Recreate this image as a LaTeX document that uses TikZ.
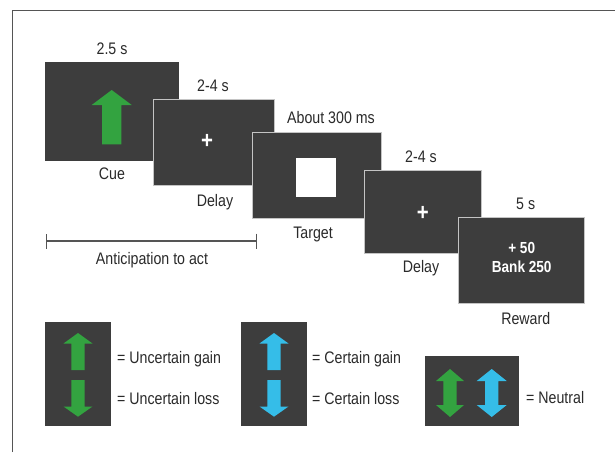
\documentclass[tikz,border=0pt]{standalone}
\usepackage{fontspec}
\setmainfont{Liberation Sans}[FakeStretch=0.85]
\usetikzlibrary{arrows.meta}
\definecolor{scr}{HTML}{3D3D3D}
\definecolor{grn}{HTML}{33A340}
\definecolor{cyn}{HTML}{35BDE8}
\definecolor{txt}{HTML}{2A2A2A}
\definecolor{frm}{HTML}{555555}
\definecolor{edge}{HTML}{C4C4C4}
\newcommand{\txtfont}{\fontsize{16.7}{19}\selectfont}
\newcommand{\bfnt}{\fontsize{16}{19}\selectfont\bfseries}
\newcommand{\plusfnt}{\fontsize{24}{26}\selectfont\bfseries}
% up arrow: cx, tip, headbase, half head width, half shaft width, bottom, colour
\newcommand{\uparr}[7]{\fill[#7] (#1,#2) -- (#1+#4,#3) -- (#1+#5,#3) -- (#1+#5,#6) -- (#1-#5,#6) -- (#1-#5,#3) -- (#1-#4,#3) -- cycle;}
\newcommand{\dblarr}[6]{\fill[#6] (#1,#2) -- (#1+#4,#2+12) -- (#1+#5,#2+12) -- (#1+#5,#3-12) -- (#1+#4,#3-12) -- (#1,#3) -- (#1-#4,#3-12) -- (#1-#5,#3-12) -- (#1-#5,#2+12) -- (#1-#4,#2+12) -- cycle;}
\begin{document}
\begin{tikzpicture}[x=1pt,y=-1pt,
  screen/.style={fill=scr, draw=#1, line width=0.9pt, inner sep=0pt},
  screen/.default={scr},
  lbl/.style={text=txt, font=\txtfont, inner sep=0pt},
  lgd/.style={text=txt, font=\txtfont, inner sep=0pt, anchor=west},
  wtxt/.style={text=white, font=\bfnt, inner sep=0pt, align=center},
  pls/.style={text=white, font=\plusfnt, inner sep=0pt},
  lbox/.style={fill=scr, inner sep=0pt}]
\useasboundingbox (0,0) rectangle (615,452);
\fill[white] (0,0) rectangle (615,452);
% frame
\draw[frm, line width=1.5pt] (12.5,452) -- (12.5,10.5) -- (615,10.5);

% screens
\node[screen, minimum width=133, minimum height=98] (s1) at (111.5,111) {};
\node[screen=edge, minimum width=121, minimum height=86] (s2) at (213.5,142) {};
\node[screen=edge, minimum width=129, minimum height=86] (s3) at (316.5,175) {};
\node[screen=edge, minimum width=117, minimum height=83] (s4) at (422.5,211.5) {};
\node[screen=edge, minimum width=126, minimum height=86] (s5) at (521,260) {};

% screen contents
\uparr{111.7}{90}{105}{20}{9.7}{144.3}{grn}
\node[pls] (p1) at (207,141) {+};
\fill[white] (296,158) rectangle (336,197);
\node[pls] (p2) at (422.7,213) {+};
\node[wtxt] (r1) at (521.7,247.5) {+ 50};
\node[wtxt] (r2) at (521.7,266.5) {Bank 250};

% labels
\node[lbl] (t1) at (112,49) {2.5 s};
\node[lbl] (c1) at (112,174) {Cue};
\node[lbl] (t2) at (213,86) {2-4 s};
\node[lbl] (c2) at (215,202) {Delay};
\node[lbl] (t3) at (331,118) {About 300 ms};
\node[lbl] (c3) at (313,234) {Target};
\node[lbl] (t4) at (421,157) {2-4 s};
\node[lbl] (c4) at (421,268) {Delay};
\node[lbl] (t5) at (525.7,204) {5 s};
\node[lbl] (c5) at (525.7,318.5) {Reward};

% anticipation bracket
\coordinate (a1) at (46,241);
\coordinate (a2) at (257,241);
\draw[frm, line width=1.2pt, {Bar[width=15pt]}-{Bar[width=15pt]}] (a1) -- (a2);
\node[lbl] (ant) at (152,260) {Anticipation to act};

% legend
\node[lbox, minimum width=66, minimum height=104] (L1) at (78,374) {};
\uparr{78}{333}{343.5}{14.5}{6.7}{370}{grn}
\uparr{78}{416.7}{406.5}{14.5}{6.7}{380}{grn}
\node[lgd] (l1a) at (117,359) {= Uncertain gain};
\node[lgd] (l1b) at (117,399) {= Uncertain loss};

\node[lbox, minimum width=66, minimum height=104] (L2) at (274,374) {};
\uparr{274}{333}{343.5}{14.5}{6.7}{370}{cyn}
\uparr{274}{416.7}{406.5}{14.5}{6.7}{380}{cyn}
\node[lgd] (l2a) at (312,359) {= Certain gain};
\node[lgd] (l2b) at (312,399) {= Certain loss};

\node[lbox, minimum width=94, minimum height=70] (L3) at (472,391) {};
\dblarr{450}{369}{417}{14}{6.7}{grn}
\dblarr{491.7}{369}{417}{15}{6.7}{cyn}
\node[lgd] (l3) at (526,398) {= Neutral};
\end{tikzpicture}
\end{document}
